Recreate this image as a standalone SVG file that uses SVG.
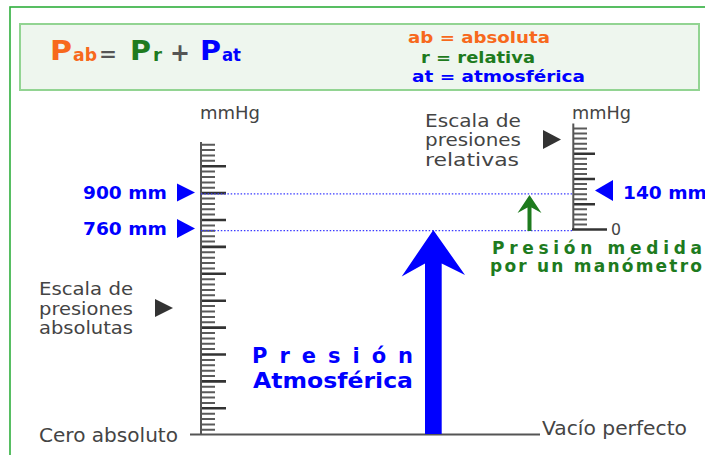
<svg xmlns="http://www.w3.org/2000/svg" width="705" height="455" viewBox="0 0 705 455">
<style>
.b{font-family:"DejaVu Sans","Liberation Sans",sans-serif;font-weight:bold}
.r{font-family:"DejaVu Sans","Liberation Sans",sans-serif;font-weight:normal;fill:#444}
.or{fill:#f7691c}.gr{fill:#1e7b1e}.bl{fill:#0000ff}.gy{fill:#555}
.minor{stroke:#5a5a5a;stroke-width:2;fill:none}
.major{stroke:#333;stroke-width:2.6;fill:none}
.axis{stroke:#555;stroke-width:2;fill:none}
.dot{stroke:#3a3aff;stroke-width:1.2;stroke-dasharray:1.5 1.8;fill:none}
.tri{fill:#333}
.btri{fill:#0000ff}
</style>
<rect width="705" height="455" fill="#fff"/>
<g id="frame">
<rect x="10" y="7" width="720" height="470" fill="none" stroke="#2fae3c" stroke-width="1.6"/>
<rect x="20" y="24" width="679" height="66" fill="#eef6ee" stroke="#92d492" stroke-width="2"/>
</g>
<g id="formula">
<text class="b or" x="50" y="60" font-size="26" textLength="22" lengthAdjust="spacingAndGlyphs">P</text>
<text class="b or" x="73" y="61" font-size="17" textLength="24" lengthAdjust="spacingAndGlyphs">ab</text>
<text class="b gy" x="99" y="61" font-size="20" textLength="18" lengthAdjust="spacingAndGlyphs">=</text>
<text class="b gr" x="130" y="60" font-size="26" textLength="21" lengthAdjust="spacingAndGlyphs">P</text>
<text class="b gr" x="153" y="61" font-size="17" textLength="9" lengthAdjust="spacingAndGlyphs">r</text>
<text class="b gy" x="170" y="61" font-size="24" textLength="20" lengthAdjust="spacingAndGlyphs">+</text>
<text class="b bl" x="200" y="60" font-size="26" textLength="21" lengthAdjust="spacingAndGlyphs">P</text>
<text class="b bl" x="222" y="61" font-size="17" textLength="19" lengthAdjust="spacingAndGlyphs">at</text>
</g>
<g id="legend">
<text class="b or" x="408" y="43" font-size="16" textLength="142" lengthAdjust="spacingAndGlyphs">ab = absoluta</text>
<text class="b gr" x="421" y="63" font-size="16" textLength="114" lengthAdjust="spacingAndGlyphs">r = relativa</text>
<text class="b bl" x="412" y="82" font-size="16" textLength="173" lengthAdjust="spacingAndGlyphs">at = atmosférica</text>
</g>
<g id="scale-absolute">
<text class="r" x="200" y="119" font-size="17" textLength="60" lengthAdjust="spacingAndGlyphs">mmHg</text>
<path class="minor" d="M201 144.7h14M201 150.1h14M201 155.5h14M201 160.8h14M201 171.6h14M201 177h14M201 182.4h14M201 187.7h14M201 198.5h14M201 203.9h14M201 209.3h14M201 214.6h14M201 225.4h14M201 230.8h14M201 236.2h14M201 241.5h14M201 252.3h14M201 257.7h14M201 263.1h14M201 268.4h14M201 279.2h14M201 284.6h14M201 290h14M201 295.3h14M201 306.1h14M201 311.5h14M201 316.9h14M201 322.2h14M201 333h14M201 338.4h14M201 343.8h14M201 349.1h14M201 359.9h14M201 365.3h14M201 370.7h14M201 376h14M201 386.8h14M201 392.2h14M201 397.6h14M201 402.9h14M201 413.7h14M201 419.1h14M201 424.5h14M201 429.8h14"/>
<path class="major" d="M201 166.2h25M201 193.1h25M201 220h25M201 246.9h25M201 273.8h25M201 300.7h25M201 327.6h25M201 354.5h25M201 381.4h25M201 408.3h25"/>
<path class="axis" d="M201 142V434.5M190 434.5H540"/>
</g>
<g id="scale-relative">
<text class="r" x="572" y="119" font-size="17" textLength="59" lengthAdjust="spacingAndGlyphs">mmHg</text>
<path class="minor" d="M573 128.5h14M573 133.6h14M573 138.6h14M573 143.7h14M573 148.7h14M573 158.8h14M573 163.9h14M573 168.9h14M573 174h14M573 184h14M573 189.1h14M573 194.2h14M573 199.2h14M573 209.3h14M573 214.4h14M573 219.4h14M573 224.5h14"/>
<path class="major" d="M573 153.8h22M573 179h22M573 204.3h22"/>
<path class="axis" d="M573.3 123.5V229.5"/>
<path d="M572 229.5H607" stroke="#333" stroke-width="2.6" fill="none"/>
<text class="r" x="611" y="235" font-size="16" textLength="10" lengthAdjust="spacingAndGlyphs">0</text>
</g>
<g id="connectors">
<path class="dot" d="M201 193.8H573M201 230.7H573"/>
<polygon fill="#1e7b1e" points="529.5,195 541.5,213 531.5,207.5 531.5,231 527.5,231 527.5,207.5 517.5,213"/>
<polygon fill="#0000ff" points="433.3,230 465,275 441.7,263.5 441.7,434 425,434 425,263.5 401.7,276.5"/>
</g>
<g id="label-900">
<text class="b bl" x="83" y="198.5" font-size="17" textLength="84" lengthAdjust="spacingAndGlyphs">900 mm</text>
<polygon class="btri" points="177,183.5 195,192.5 177,201.5"/>
</g>
<g id="label-760">
<text class="b bl" x="83" y="235" font-size="17" textLength="84" lengthAdjust="spacingAndGlyphs">760 mm</text>
<polygon class="btri" points="177,219 195,228.5 177,238"/>
</g>
<g id="label-140">
<polygon class="btri" points="595,190.5 613,180 613,201"/>
<text class="b bl" x="623" y="198.5" font-size="17" textLength="84" lengthAdjust="spacingAndGlyphs">140 mm</text>
</g>
<g id="label-abs">
<text class="r" font-size="18"><tspan x="39" y="295" textLength="94" lengthAdjust="spacingAndGlyphs">Escala de</tspan><tspan x="39" y="314.5" textLength="94" lengthAdjust="spacingAndGlyphs">presiones</tspan><tspan x="39" y="334" textLength="94" lengthAdjust="spacingAndGlyphs">absolutas</tspan></text>
<polygon class="tri" points="155,299 173,308 155,317"/>
</g>
<g id="label-rel">
<text class="r" font-size="18"><tspan x="425" y="126.5" textLength="96" lengthAdjust="spacingAndGlyphs">Escala de</tspan><tspan x="425" y="146" textLength="96" lengthAdjust="spacingAndGlyphs">presiones</tspan><tspan x="425" y="165.5" textLength="94" lengthAdjust="spacingAndGlyphs">relativas</tspan></text>
<polygon class="tri" points="543,130 561,139.5 543,149"/>
</g>
<g id="label-cero">
<text class="r" x="39" y="442" font-size="19" textLength="139" lengthAdjust="spacingAndGlyphs">Cero absoluto</text>
</g>
<g id="label-vacio">
<text class="r" x="542" y="435" font-size="19" textLength="145" lengthAdjust="spacingAndGlyphs">Vacío perfecto</text>
</g>
<g id="label-atm">
<text class="b bl" x="252" y="363" font-size="21" textLength="161" lengthAdjust="spacing">P r e s i ó n</text>
<text class="b bl" x="253" y="388" font-size="21" textLength="160" lengthAdjust="spacingAndGlyphs">Atmosférica</text>
</g>
<g id="label-medida">
<text class="b gr" x="492" y="254" font-size="17" textLength="210" lengthAdjust="spacing">Presión medida</text>
<text class="b gr" x="490" y="272" font-size="17" textLength="212" lengthAdjust="spacing">por un manómetro</text>
</g>
</svg>
